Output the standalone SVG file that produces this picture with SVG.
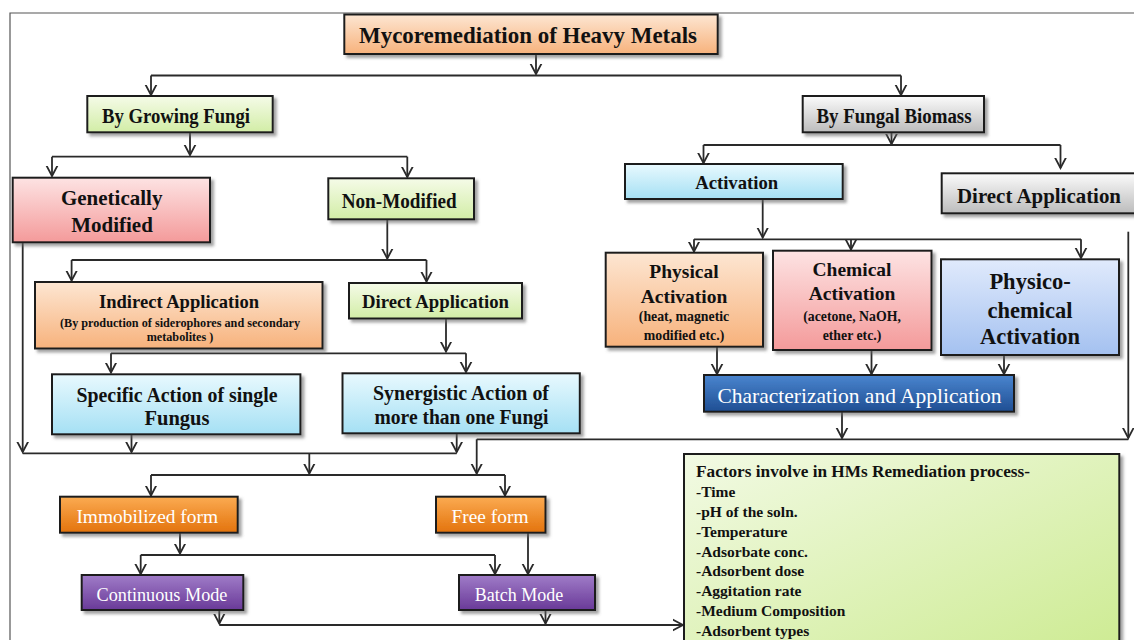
<svg xmlns="http://www.w3.org/2000/svg" width="1134" height="640" viewBox="0 0 1134 640">
<defs>
<style>
.bx{stroke:#1e1e1e;stroke-width:2;filter:url(#sh)}
.t{font-family:"Liberation Serif","Times New Roman",serif;font-weight:bold;fill:#111;text-anchor:middle;dominant-baseline:central}
.w{font-family:"Liberation Serif","Times New Roman",serif;fill:#fff;text-anchor:middle;dominant-baseline:central}
.f{font-family:"Liberation Serif","Times New Roman",serif;font-weight:bold;fill:#111;dominant-baseline:central}
.c path{fill:none;stroke:#2a2a2a;stroke-width:1.8}
.c path.a{marker-end:url(#ar)}
</style>
<marker id="ar" markerUnits="userSpaceOnUse" markerWidth="20" markerHeight="20" refX="10" refY="10" orient="auto" viewBox="0 0 20 20">
<path d="M-1,4.2 L10,10 L-1,15.8" fill="none" stroke="#2a2a2a" stroke-width="1.8"/>
</marker>
<filter id="sh" x="-10%" y="-10%" width="130%" height="140%">
<feDropShadow dx="3" dy="3" stdDeviation="1.5" flood-color="#666" flood-opacity="0.6"/>
</filter>
<linearGradient id="gPeach" x1="0" y1="0" x2="0" y2="1"><stop offset="0" stop-color="#fde6d2"/><stop offset="1" stop-color="#f7b27c"/></linearGradient>
<linearGradient id="gGreen" x1="0" y1="0" x2="0" y2="1"><stop offset="0" stop-color="#f5fbe8"/><stop offset="1" stop-color="#d2eda6"/></linearGradient>
<linearGradient id="gGray" x1="0" y1="0" x2="0" y2="1"><stop offset="0" stop-color="#fbfbfb"/><stop offset="1" stop-color="#bcbcbc"/></linearGradient>
<linearGradient id="gLBlue" x1="0" y1="0" x2="0" y2="1"><stop offset="0" stop-color="#e8f9fe"/><stop offset="1" stop-color="#a5e0f4"/></linearGradient>
<linearGradient id="gPink" x1="0" y1="0" x2="0" y2="1"><stop offset="0" stop-color="#fde3e3"/><stop offset="1" stop-color="#f49a9a"/></linearGradient>
<linearGradient id="gPBlue" x1="0" y1="0" x2="0" y2="1"><stop offset="0" stop-color="#e0eafc"/><stop offset="1" stop-color="#a4c1f0"/></linearGradient>
<linearGradient id="gDBlue" x1="0" y1="0" x2="0" y2="1"><stop offset="0" stop-color="#4a85cf"/><stop offset="1" stop-color="#1f4e93"/></linearGradient>
<linearGradient id="gOrange" x1="0" y1="0" x2="0" y2="1"><stop offset="0" stop-color="#fbab52"/><stop offset="1" stop-color="#e3730c"/></linearGradient>
<linearGradient id="gPurple" x1="0" y1="0" x2="0" y2="1"><stop offset="0" stop-color="#a07cc8"/><stop offset="1" stop-color="#693a98"/></linearGradient>
<linearGradient id="gFactor" x1="0" y1="0" x2="1" y2="1"><stop offset="0" stop-color="#f2fae4"/><stop offset="1" stop-color="#cdeb92"/></linearGradient>
</defs>
<rect width="1134" height="640" fill="#fff"/>
<path d="M10,640 V13 H1134" fill="none" stroke="#555" stroke-width="1.2"/>

<g class="c" id="connectors">
<path class="a" d="M536,54 V74"/>
<path d="M151,75.5 H901"/>
<path class="a" d="M151,75.5 V95"/>
<path class="a" d="M901,75.5 V95"/>
<path class="a" d="M190,132 V155"/>
<path d="M52,156.7 H407.3"/>
<path class="a" d="M52,156.7 V176"/>
<path class="a" d="M407.3,156.7 V177"/>
<path class="a" d="M891.5,133 V144"/>
<path d="M703.5,145 H1060.5"/>
<path class="a" d="M703.5,145 V163"/>
<path class="a" d="M1060.5,145 V168"/>
<path class="a" d="M387.3,219 V258.5"/>
<path d="M71.6,260 H426.5"/>
<path class="a" d="M71.6,260 V280.5"/>
<path class="a" d="M426.5,260 V281.5"/>
<path class="a" d="M446,318 V351.5"/>
<path d="M111,353.3 H466"/>
<path class="a" d="M111,353.3 V372.5"/>
<path class="a" d="M466,353.3 V372"/>
<path class="a" d="M762.7,199 V237.5"/>
<path d="M694,239.3 H1081"/>
<path class="a" d="M694,239.3 V251.5"/>
<path class="a" d="M851,239.3 V249.5"/>
<path class="a" d="M1081,239.3 V258"/>
<path class="a" d="M717,347 V374"/>
<path class="a" d="M871.5,350 V374"/>
<path class="a" d="M1004,355 V374"/>
<path class="a" d="M1128.3,231.7 V438"/>
<path class="a" d="M842,412 V438"/>
<path d="M476.7,439.3 H1128.3"/>
<path class="a" d="M476.7,439.3 V473.5"/>
<path class="a" d="M22.7,242.3 V452"/>
<path class="a" d="M131.5,434.3 V452"/>
<path class="a" d="M456.7,433.3 V452"/>
<path d="M22.7,453.3 H456.7"/>
<path class="a" d="M309.3,453.3 V473.5"/>
<path d="M151,475 H505"/>
<path class="a" d="M151,475 V495.5"/>
<path class="a" d="M505,475 V495.5"/>
<path class="a" d="M180,533 V553.5"/>
<path d="M140.7,555 H495"/>
<path class="a" d="M140.7,555 V574"/>
<path class="a" d="M495,555 V574"/>
<path class="a" d="M528,533 V574"/>
<path class="a" d="M219.3,610 V623.5"/>
<path class="a" d="M545.5,610 V623.5"/>
<path class="a" d="M219.3,625 H683"/>
</g>

<g id="title"><rect class="bx" x="344.3" y="14.5" width="373.4" height="39.5" fill="url(#gPeach)"/><text class="t" x="528" y="35" font-size="23" textLength="338" lengthAdjust="spacingAndGlyphs">Mycoremediation of Heavy Metals</text></g>
<g id="growing"><rect class="bx" x="87.3" y="96" width="185.4" height="36.3" fill="url(#gGreen)"/><text class="t" x="176" y="115.5" font-size="20" textLength="148" lengthAdjust="spacingAndGlyphs">By Growing Fungi</text></g>
<g id="biomass"><rect class="bx" x="802.7" y="96" width="181.3" height="36.3" fill="url(#gGray)"/><text class="t" x="894" y="115.5" font-size="20" textLength="155" lengthAdjust="spacingAndGlyphs">By Fungal Biomass</text></g>
<g id="genetically"><rect class="bx" x="12.7" y="177.7" width="197.3" height="64.6" fill="url(#gPink)"/><text class="t" x="111.7" y="198.3" font-size="21">Genetically</text><text class="t" x="112" y="224.5" font-size="21">Modified</text></g>
<g id="nonmodified"><rect class="bx" x="328.3" y="178.3" width="145.7" height="41" fill="url(#gGreen)"/><text class="t" x="399.2" y="201.3" font-size="20" textLength="115" lengthAdjust="spacingAndGlyphs">Non-Modified</text></g>
<g id="activation"><rect class="bx" x="625" y="164" width="217.7" height="35" fill="url(#gLBlue)"/><text class="t" x="736.7" y="182.5" font-size="19.5" textLength="83" lengthAdjust="spacingAndGlyphs">Activation</text></g>
<g id="directbio"><rect class="bx" x="941.7" y="173.3" width="200" height="40" fill="url(#gGray)"/><text class="t" x="1039" y="195" font-size="22" textLength="164" lengthAdjust="spacingAndGlyphs">Direct Application</text></g>
<g id="indirect"><rect class="bx" x="35" y="282" width="287.5" height="66.5" fill="url(#gPeach)"/><text class="t" x="179" y="301.5" font-size="19.5" textLength="160" lengthAdjust="spacingAndGlyphs">Indirect Application</text><text class="t" x="180" y="322.5" font-size="12.2">(By production of siderophores and secondary</text><text class="t" x="180" y="337" font-size="12.2">metabolites )</text></g>
<g id="directgrow"><rect class="bx" x="349" y="283" width="173" height="35.5" fill="url(#gGreen)"/><text class="t" x="435.5" y="301.5" font-size="19.5" textLength="147" lengthAdjust="spacingAndGlyphs">Direct Application</text></g>
<g id="physical"><rect class="bx" x="605.7" y="252.7" width="157.3" height="94" fill="url(#gPeach)"/><text class="t" x="684" y="271.5" font-size="19.5">Physical</text><text class="t" x="684" y="296" font-size="19.5">Activation</text><text class="t" x="684" y="316.5" font-size="13.8">(heat, magnetic</text><text class="t" x="684" y="335" font-size="13.8">modified etc.)</text></g>
<g id="chemical"><rect class="bx" x="773" y="250.7" width="158.5" height="99.3" fill="url(#gPink)"/><text class="t" x="852" y="269.5" font-size="19.5">Chemical</text><text class="t" x="852" y="293.5" font-size="19.5">Activation</text><text class="t" x="852" y="316.5" font-size="13.8">(acetone, NaOH,</text><text class="t" x="852" y="335" font-size="13.8">ether etc.)</text></g>
<g id="physico"><rect class="bx" x="941" y="259.3" width="178" height="95.7" fill="url(#gPBlue)"/><text class="t" x="1030" y="281.5" font-size="22.5">Physico-</text><text class="t" x="1030" y="310" font-size="22.5">chemical</text><text class="t" x="1030" y="336.5" font-size="22.5">Activation</text></g>
<g id="characterization"><rect class="bx" x="704" y="375" width="310" height="36.7" fill="url(#gDBlue)"/><text class="w" x="859.5" y="395.5" font-size="21.5">Characterization and Application</text></g>
<g id="specific"><rect class="bx" x="52" y="374.3" width="248.4" height="60" fill="url(#gLBlue)"/><text class="t" x="177" y="395" font-size="20.5" textLength="201" lengthAdjust="spacingAndGlyphs">Specific Action of single</text><text class="t" x="177" y="418.3" font-size="20.5">Fungus</text></g>
<g id="synergistic"><rect class="bx" x="342.5" y="373.3" width="237.3" height="60" fill="url(#gLBlue)"/><text class="t" x="461" y="393.3" font-size="20.5" textLength="176" lengthAdjust="spacingAndGlyphs">Synergistic Action of</text><text class="t" x="461.5" y="417.3" font-size="20.5" textLength="174" lengthAdjust="spacingAndGlyphs">more than one Fungi</text></g>
<g id="immobilized"><rect class="bx" x="60" y="496.7" width="177.7" height="36" fill="url(#gOrange)"/><text class="w" x="147.2" y="516.7" font-size="19.4" fill="#fff4de">Immobilized form</text></g>
<g id="free"><rect class="bx" x="436" y="496.7" width="109.5" height="36" fill="url(#gOrange)"/><text class="w" x="490" y="516.7" font-size="19.4" fill="#fff4de">Free form</text></g>
<g id="continuous"><rect class="bx" x="81.7" y="575" width="161.6" height="35" fill="url(#gPurple)"/><text class="w" x="162" y="594.5" font-size="18.2">Continuous Mode</text></g>
<g id="batch"><rect class="bx" x="459" y="575" width="136" height="35" fill="url(#gPurple)"/><text class="w" x="519" y="594.5" font-size="18">Batch Mode</text></g>
<g id="factors"><rect class="bx" x="684" y="454" width="435.3" height="200" fill="url(#gFactor)"/>
<text class="f" x="696" y="471.7" font-size="17.2" textLength="334" lengthAdjust="spacingAndGlyphs">Factors involve in HMs Remediation process-</text>
<text class="f" x="696" y="491.7" font-size="15.5">-Time</text>
<text class="f" x="696" y="511.5" font-size="15.5">-pH of the soln.</text>
<text class="f" x="696" y="531.3" font-size="15.5">-Temperature</text>
<text class="f" x="696" y="551.1" font-size="15.5">-Adsorbate conc.</text>
<text class="f" x="696" y="570.9" font-size="15.5">-Adsorbent dose</text>
<text class="f" x="696" y="590.7" font-size="15.5">-Aggitation rate</text>
<text class="f" x="696" y="610.5" font-size="15.5">-Medium Composition</text>
<text class="f" x="696" y="630.3" font-size="15.5">-Adsorbent types</text>
</g>
</svg>
